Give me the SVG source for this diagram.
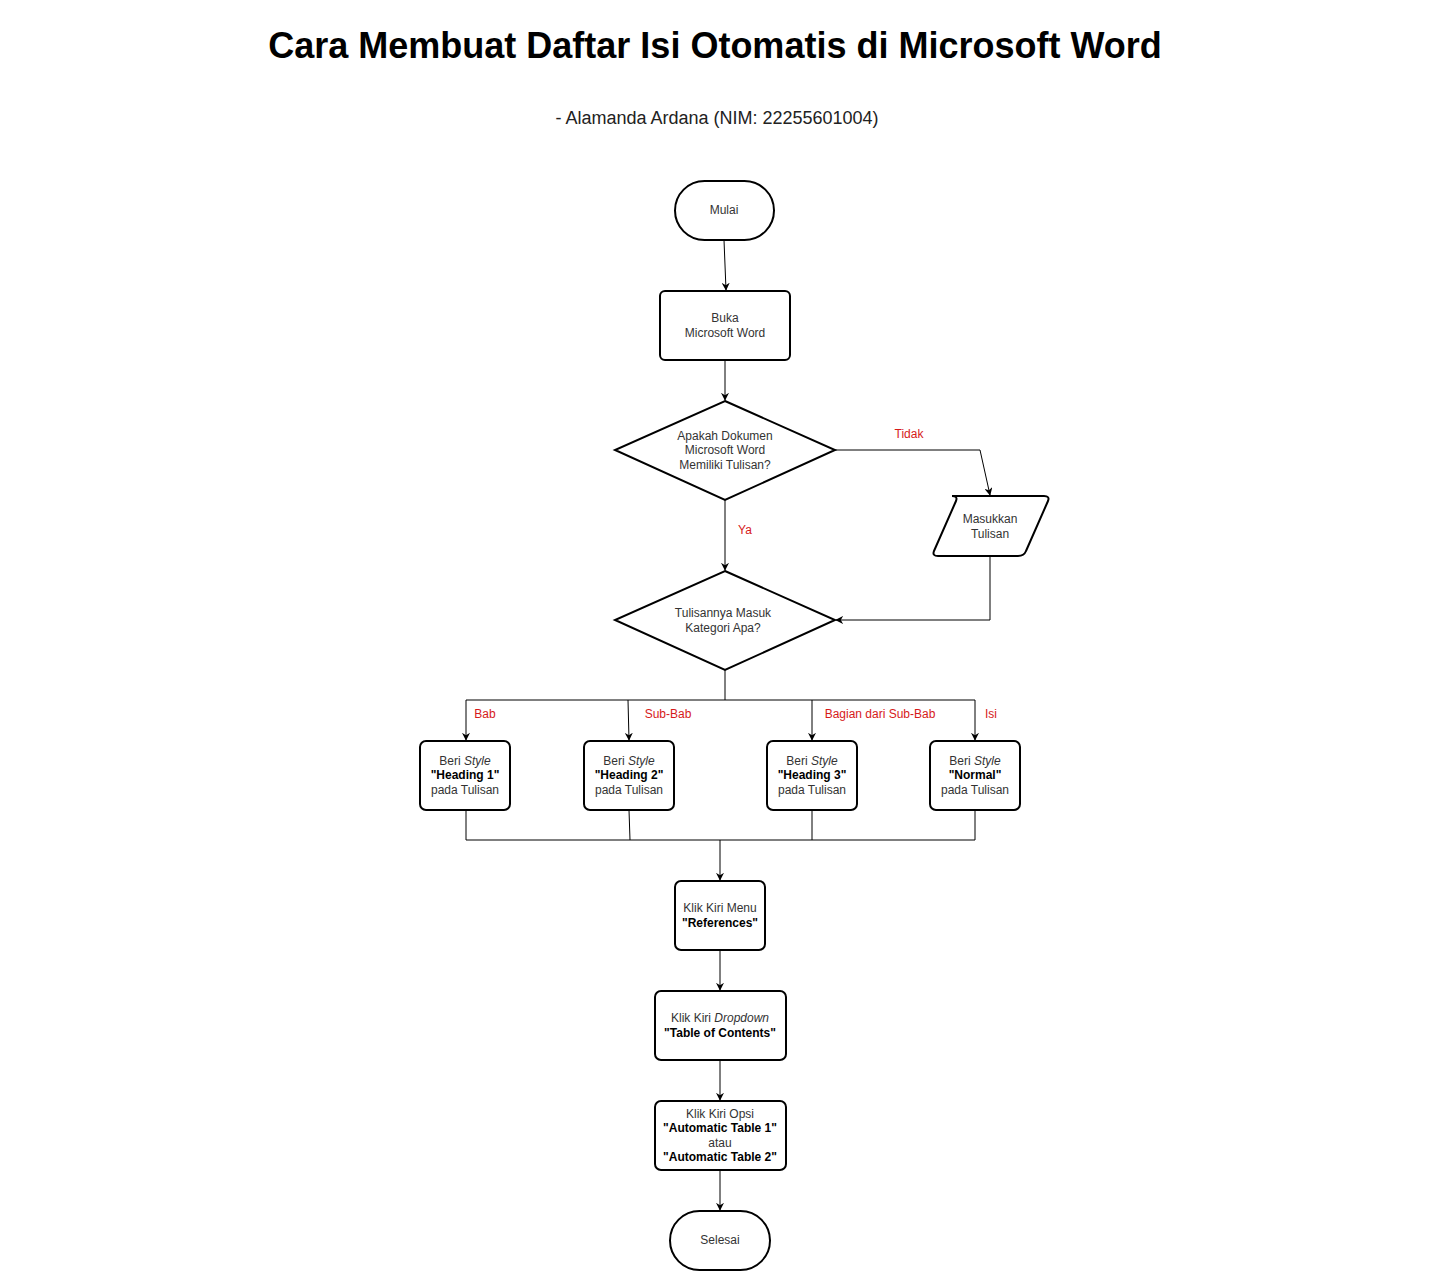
<svg xmlns="http://www.w3.org/2000/svg" width="1441" height="1271" viewBox="0 0 1441 1271">
<defs>
<style>
.s{fill:#fff;stroke:#000;stroke-width:2}
.c{fill:none;stroke:#000;stroke-width:1}
.t{font-family:"Liberation Sans",Arial,sans-serif;font-size:12px;fill:#333;text-anchor:middle}
.l{font-family:"Liberation Sans",Arial,sans-serif;font-size:12px;fill:#d61a1a;text-anchor:middle}
.b{font-weight:bold;fill:#000}
.i{font-style:italic}
</style>
<marker id="a" viewBox="0 0 10 10" refX="9" refY="5" markerWidth="8" markerHeight="8" markerUnits="userSpaceOnUse" orient="auto">
<path d="M0,0 L10,5 L0,10 L3,5 Z" fill="#000"/>
</marker>
</defs>
<rect width="1441" height="1271" fill="#fff"/>
<text x="715" y="58" font-family="Liberation Sans,Arial,sans-serif" font-size="36" font-weight="bold" text-anchor="middle" fill="#000">Cara Membuat Daftar Isi Otomatis di Microsoft Word</text>
<text x="717" y="124" font-family="Liberation Sans,Arial,sans-serif" font-size="18" text-anchor="middle" fill="#222">- Alamanda Ardana (NIM: 22255601004)</text>

<g id="connectors">
<path class="c" d="M724,240 L726,290" marker-end="url(#a)"/>
<path class="c" d="M725,360 L725,400" marker-end="url(#a)"/>
<path class="c" d="M835,450 L980,450 L990,495" marker-end="url(#a)"/>
<path class="c" d="M990,556 L990,620 L836,620" marker-end="url(#a)"/>
<path class="c" d="M725,500 L725,570" marker-end="url(#a)"/>
<path class="c" d="M725,670 L725,700"/>
<path class="c" d="M466,700 L975,700"/>
<path class="c" d="M466,700 L466,740" marker-end="url(#a)"/>
<path class="c" d="M628,700 L629,740" marker-end="url(#a)"/>
<path class="c" d="M812,700 L812,740" marker-end="url(#a)"/>
<path class="c" d="M975,700 L975,740" marker-end="url(#a)"/>
<path class="c" d="M466,810 L466,840 L975,840 L975,810"/>
<path class="c" d="M629,810 L630,840"/>
<path class="c" d="M812,810 L812,840"/>
<path class="c" d="M720,840 L720,880" marker-end="url(#a)"/>
<path class="c" d="M720,950 L720,990" marker-end="url(#a)"/>
<path class="c" d="M720,1060 L720,1100" marker-end="url(#a)"/>
<path class="c" d="M720,1170 L720,1210" marker-end="url(#a)"/>
<text class="l" x="909" y="438">Tidak</text>
<text class="l" x="745" y="534">Ya</text>
<text class="l" x="485" y="718">Bab</text>
<text class="l" x="668" y="718">Sub-Bab</text>
<text class="l" x="880" y="718">Bagian dari Sub-Bab</text>
<text class="l" x="991" y="718">Isi</text>
</g>

<g id="mulai">
<rect class="s" x="675" y="181" width="99" height="59" rx="29.5"/>
<text class="t" x="724" y="214">Mulai</text>
</g>
<g id="buka">
<rect class="s" x="660" y="291" width="130" height="69" rx="5"/>
<text class="t" x="725" y="322">Buka</text>
<text class="t" x="725" y="337">Microsoft Word</text>
</g>
<g id="cek">
<path class="s" d="M725,401 L835,450 L725,500 L615,450 Z"/>
<text class="t" x="725" y="440">Apakah Dokumen</text>
<text class="t" x="725" y="454">Microsoft Word</text>
<text class="t" x="725" y="469">Memiliki Tulisan?</text>
</g>
<g id="masukkan">
<path class="s" d="M952,496 L1044,496 Q1050,496 1048,501 L1026,551 Q1024,556 1018,556 L938,556 Q932,556 934,551 L956,501 Q958,496 952,496 Z"/>
<text class="t" x="990" y="523">Masukkan</text>
<text class="t" x="990" y="538">Tulisan</text>
</g>
<g id="kategori">
<path class="s" d="M725,571 L835,620 L725,670 L615,620 Z"/>
<text class="t" x="723" y="617">Tulisannya Masuk</text>
<text class="t" x="723" y="632">Kategori Apa?</text>
</g>
<g id="h1">
<rect class="s" x="420" y="741" width="90" height="69" rx="6"/>
<text class="t" x="465" y="765">Beri <tspan class="i">Style</tspan></text>
<text class="t b" x="465" y="779">"Heading 1"</text>
<text class="t" x="465" y="794">pada Tulisan</text>
</g>
<g id="h2">
<rect class="s" x="584" y="741" width="90" height="69" rx="6"/>
<text class="t" x="629" y="765">Beri <tspan class="i">Style</tspan></text>
<text class="t b" x="629" y="779">"Heading 2"</text>
<text class="t" x="629" y="794">pada Tulisan</text>
</g>
<g id="h3">
<rect class="s" x="767" y="741" width="90" height="69" rx="6"/>
<text class="t" x="812" y="765">Beri <tspan class="i">Style</tspan></text>
<text class="t b" x="812" y="779">"Heading 3"</text>
<text class="t" x="812" y="794">pada Tulisan</text>
</g>
<g id="normal">
<rect class="s" x="930" y="741" width="90" height="69" rx="6"/>
<text class="t" x="975" y="765">Beri <tspan class="i">Style</tspan></text>
<text class="t b" x="975" y="779">"Normal"</text>
<text class="t" x="975" y="794">pada Tulisan</text>
</g>
<g id="references">
<rect class="s" x="675" y="881" width="90" height="69" rx="6"/>
<text class="t" x="720" y="912">Klik Kiri Menu</text>
<text class="t b" x="720" y="927">"References"</text>
</g>
<g id="dropdown">
<rect class="s" x="655" y="991" width="131" height="69" rx="6"/>
<text class="t" x="720" y="1022">Klik Kiri <tspan class="i">Dropdown</tspan></text>
<text class="t b" x="720" y="1037">"Table of Contents"</text>
</g>
<g id="opsi">
<rect class="s" x="655" y="1101" width="131" height="69" rx="6"/>
<text class="t" x="720" y="1118">Klik Kiri Opsi</text>
<text class="t b" x="720" y="1132">"Automatic Table 1"</text>
<text class="t" x="720" y="1147">atau</text>
<text class="t b" x="720" y="1161">"Automatic Table 2"</text>
</g>
<g id="selesai">
<rect class="s" x="670" y="1211" width="100" height="59" rx="29.5"/>
<text class="t" x="720" y="1244">Selesai</text>
</g>
</svg>
